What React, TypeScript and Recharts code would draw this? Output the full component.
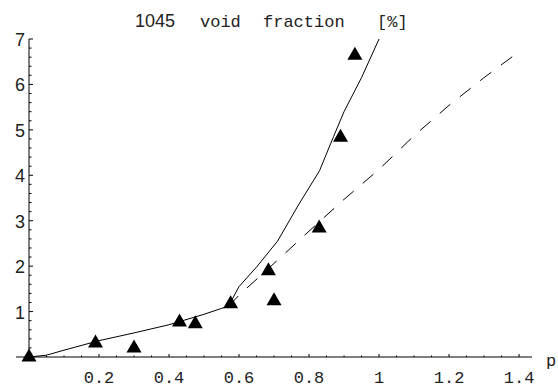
import { ComposedChart, Line, Scatter, XAxis, YAxis, ReferenceLine } from "recharts";

// measured points (triangles)
const pointX = [0, 0.19, 0.3, 0.43, 0.475, 0.576, 0.684, 0.7, 0.829, 0.89, 0.931];
const pointY = [0, 0.31, 0.2, 0.77, 0.73, 1.17, 1.9, 1.24, 2.84, 4.84, 6.64];

// solid curve
const solidX = [0, 0.05, 0.1, 0.2, 0.3, 0.4, 0.5, 0.55, 0.57, 0.6, 0.65, 0.71, 0.77, 0.83, 0.87, 0.9, 0.95, 1.0];
const solidY = [0, 0.04, 0.15, 0.36, 0.53, 0.71, 0.94, 1.07, 1.12, 1.55, 1.98, 2.55, 3.35, 4.1, 4.85, 5.4, 6.15, 7.0];

// dashed curve
const dashedX = [0.57, 0.6, 0.7, 0.8, 0.9, 1.0, 1.1, 1.2, 1.3, 1.4];
const dashedY = [1.12, 1.36, 2.06, 2.77, 3.47, 4.13, 4.87, 5.54, 6.15, 6.72];

const xMajorTicks = [0.2, 0.4, 0.6, 0.8, 1, 1.2, 1.4];
const xTickLabels = ["0.2", "0.4", "0.6", "0.8", "1", "1.2", "1.4"];
const yMajorTicks = [1, 2, 3, 4, 5, 6, 7];
const yTickLabels = ["1", "2", "3", "4", "5", "6", "7"];

const xMinorStep = 0.05;
const yMinorStep = 0.2;
const xMax = 1.437;
const yMax = 7;

const xTicks = Array.from({ length: Math.floor(xMax / xMinorStep) + 1 }, (_, i) => +(i * xMinorStep).toFixed(2));
const yTicks = Array.from({ length: Math.round(yMax / yMinorStep) + 1 }, (_, i) => +(i * yMinorStep).toFixed(2));

const points = pointX.map((x, i) => ({ x, y: pointY[i] }));
const solid = solidX.map((x, i) => ({ x, y: solidY[i] }));
const dashed = dashedX.map((x, i) => ({ x, y: dashedY[i] }));

const mono = "'Liberation Mono', 'DejaVu Sans Mono', monospace";
const sans = "'Liberation Sans', Arial, sans-serif";

function XTick(props: any) {
  const { x, y, payload } = props;
  const idx = xMajorTicks.findIndex((v) => Math.abs(v - payload.value) < 1e-6);
  if (payload.value === 0) return <g />;
  const len = idx >= 0 ? 3 : 1.5;
  return (
    <g>
      <line x1={x} x2={x} y1={y} y2={y - len} stroke="#000" strokeWidth={1} />
      {idx >= 0 && (
        <text x={x} y={y + 26} textAnchor="middle" fontFamily={mono} fontSize={17} fill="#222">
          {xTickLabels[idx]}
        </text>
      )}
    </g>
  );
}

function YTick(props: any) {
  const { x, y, payload } = props;
  const idx = yMajorTicks.findIndex((v) => Math.abs(v - payload.value) < 1e-6);
  if (payload.value === 0) return <g />;
  const len = idx >= 0 ? 4 : 2.5;
  return (
    <g>
      <line x1={x} x2={x + len} y1={y} y2={y} stroke="#000" strokeWidth={1} />
      {idx >= 0 && (
        <text x={x - 4} y={y + 7} textAnchor="end" fontFamily={sans} fontSize={18} fill="#222">
          {yTickLabels[idx]}
        </text>
      )}
    </g>
  );
}

function Triangle(props: any) {
  const { cx, cy } = props;
  return <path d={`M${cx},${cy - 8.5} L${cx + 7.5},${cy + 4.5} L${cx - 7.5},${cy + 4.5} Z`} fill="#000" />;
}

export default function App() {
  return (
    <div style={{ position: "absolute", left: 0, top: 0, width: 558, height: 387, background: "#fff" }}>
      <ComposedChart width={558} height={387} margin={{ top: 39, right: 26, bottom: 0, left: 0 }}>
        <XAxis
          type="number"
          dataKey="x"
          domain={[0, xMax]}
          ticks={xTicks}
          interval={0}
          tick={<XTick />}
          tickLine={false}
          tickSize={0}
          tickMargin={0}
          height={30}
          axisLine={{ stroke: "#000", strokeWidth: 1 }}
        />
        <YAxis
          type="number"
          dataKey="y"
          domain={[0, yMax]}
          ticks={yTicks}
          interval={0}
          tick={<YTick />}
          tickLine={false}
          tickSize={0}
          tickMargin={0}
          width={29}
          axisLine={{ stroke: "#000", strokeWidth: 1 }}
        />
        <ReferenceLine
          segment={[{ x: -0.037, y: 0 }, { x: 0, y: 0 }]}
          stroke="#000"
          strokeWidth={1}
          ifOverflow="visible"
        />
        <Line
          data={solid}
          dataKey="y"
          type="linear"
          stroke="#000"
          strokeWidth={1}
          dot={false}
          activeDot={false}
          isAnimationActive={false}
        />
        <Line
          data={dashed}
          dataKey="y"
          type="linear"
          stroke="#000"
          strokeWidth={1}
          strokeDasharray="14 12"
          dot={false}
          activeDot={false}
          isAnimationActive={false}
        />
        <Scatter data={points} dataKey="y" shape={<Triangle />} isAnimationActive={false} />
      </ComposedChart>
      <svg width={558} height={387} style={{ position: "absolute", left: 0, top: 0, pointerEvents: "none" }}>
        <text x={135} y={27} fontFamily={sans} fontSize={18} fill="#222">1045</text>
        <text x={200} y={27} fontFamily={mono} fontSize={17} fill="#222">void</text>
        <text x={263} y={27} fontFamily={mono} fontSize={17} fill="#222">fraction</text>
        <text x={377} y={27} fontFamily={mono} fontSize={17} fill="#222">[%]</text>
        <text x={546} y={366} fontFamily={mono} fontSize={17} fill="#222">p</text>
      </svg>
    </div>
  );
}
